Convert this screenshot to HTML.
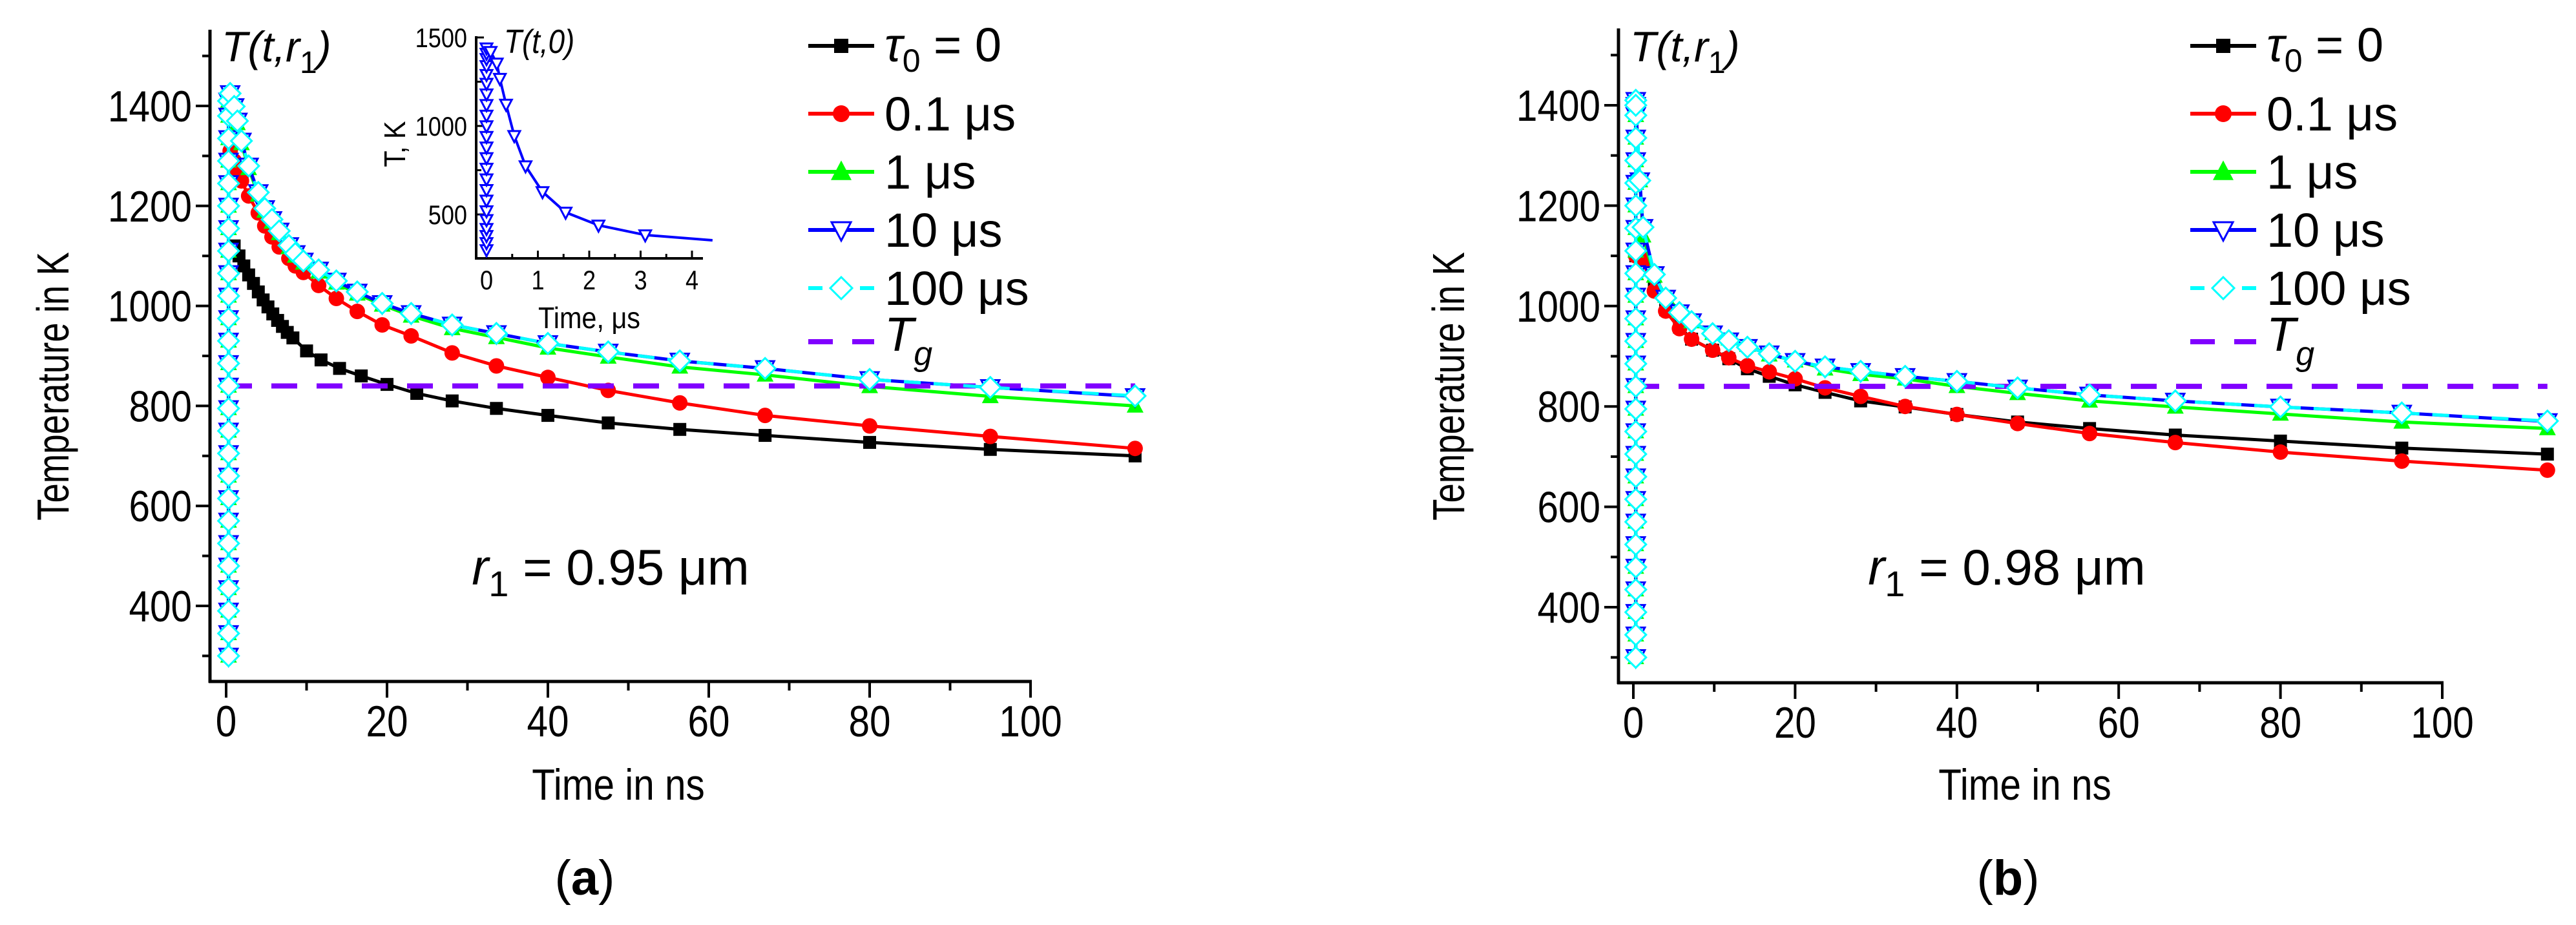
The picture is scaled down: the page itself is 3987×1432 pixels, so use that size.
<!DOCTYPE html>
<html><head><meta charset="utf-8">
<style>
html,body{margin:0;padding:0;background:#fff;}
svg{display:block;}
text{font-family:"Liberation Sans",sans-serif;}
</style></head>
<body>
<svg id="fig" width="3987" height="1432" viewBox="0 0 3987 1432" xmlns="http://www.w3.org/2000/svg"></svg>
<script>
// ---------- data ----------
const riseK = [300,345,390,435,480,525,570,615,660,705,750,795,840,885,930,975,1020,1065,1110,1155,1200,1245,1290,1335,1380,1410];
const riseT = 0.3;
const tA = [1,1.6,2.2,2.8,3.4,4,4.6,5.2,5.8,6.4,7,7.6,8.3,10,11.8,14.1,16.8,20,23.7,28.1,33.6,40,47.5,56.4,67,80,95,113];
const blackA = [1120,1100,1080,1062,1045,1028,1012,998,984,971,959,947,936,910,892,875,860,843,825,810,795,781,766,753,741,727,713,700];
const tA2 = [0.5,1,1.4,1.9,2.8,4,4.8,5.7,6.6,7.8,8.6,9.6,11.5,13.7,16.3,19.4,23,28.1,33.6,40,47.5,56.4,67,80,95,113];
const redA = [1310,1290,1270,1250,1220,1186,1160,1138,1118,1095,1080,1067,1041,1015,989,962,940,906,880,857,831,806,781,760,739,715];
const greenA = [1420,1395,1365,1325,1275,1222,1190,1168,1145,1117,1100,1086,1068,1046,1024,1002,980,955,937,916,898,878,862,839,819,800];
const blueA = [1425,1399,1370,1330,1280,1227,1195,1173,1150,1121,1105,1090,1072,1050,1028,1005,985,962,945,925,908,890,875,853,837,819];
const cyanA = [1425,1399,1370,1330,1280,1227,1195,1173,1150,1121,1105,1090,1072,1050,1028,1005,985,962,945,925,908,890,875,853,837,820];
const tB = [0.3,0.8,1.2,2.6,4,5.7,7.2,9.8,11.8,14.1,16.8,20,23.7,28.1,33.6,40,47.5,56.4,67,80,95,113];
const blackB = [1100,1100,1092,1034,993,958,934,912,895,875,860,843,828,811,799,784,769,756,743,731,717,705];
const redB = [1100,1100,1090,1030,990,955,934,912,897,881,869,855,837,820,800,784,766,746,728,709,691,673];
const greenB = [1400,1250,1140,1060,1020,990,969,946,935,922,903,891,875,864,855,840,826,811,799,785,769,756];
const blueB = [1400,1250,1157,1063,1016,987,969,945,931,918,905,890,879,870,860,850,837,823,811,799,787,770];
const cyanB = [1400,1250,1157,1063,1016,987,969,945,931,918,905,890,879,870,860,850,837,823,811,799,787,771];
const Tg = 840;
const insetT = [0.08,0.2,0.26,0.38,0.54,0.76,1.09,1.54,2.18,3.09,4.4];
const insetK = [1420,1354,1268,1122,945,774,628,512,439,384,354];
const insetRiseK = [300,340,380,420,470,520,580,640,700,760,820,880,940,1000,1060,1120,1180,1240,1290,1340,1380,1410,1440];
const yTicks = [400,600,800,1000,1200,1400];
const xTicks = [0,20,40,60,80,100];
const insetYTicks = [500,1000,1500];
const insetXTicks = [0,1,2,3,4];
const legendLabels = ["τ0 = 0","0.1 μs","1 μs","10 μs","100 μs","Tg"];

// ---------- helpers ----------
const NS="http://www.w3.org/2000/svg";
const svg=document.getElementById('fig');
function mk(tag,attrs,parent){const e=document.createElementNS(NS,tag);for(const k in attrs)e.setAttribute(k,attrs[k]);(parent||svg).appendChild(e);return e;}
function marker(g,type,cx,cy,color,s){
  let e;
  if(type==='sq'){e=mk('rect',{x:cx-s/2,y:cy-s/2,width:s,height:s,fill:color},g);}
  else if(type==='ci'){e=mk('circle',{cx:cx,cy:cy,r:s/2,fill:color},g);}
  else if(type==='up'){e=mk('polygon',{points:`${cx},${cy-s*0.55} ${cx-s/2},${cy+s*0.4} ${cx+s/2},${cy+s*0.4}`,fill:color},g);}
  else if(type==='dn'){e=mk('polygon',{points:`${cx-s/2},${cy-s*0.4} ${cx+s/2},${cy-s*0.4} ${cx},${cy+s*0.55}`,fill:'#fff',stroke:color,'stroke-width':3},g);}
  else {e=mk('polygon',{points:`${cx},${cy-s/2} ${cx+s/2},${cy} ${cx},${cy+s/2} ${cx-s/2},${cy}`,fill:'#fff',stroke:color,'stroke-width':3},g);}
  
  
  return e;
}
function txt(s,attrs,parent){const t=mk('text',attrs,parent);t.textContent=s;return t;}

function panel(o){
  const g=mk('g',{});
  
  
  const X=t=>o.x0+t*o.sx, Y=k=>o.y0+(1400-k)*o.sy;
  const ax=mk('g',{},g);
  
  
  mk('line',{x1:o.axX,y1:o.axTop,x2:o.axX,y2:o.axY+2,stroke:'#000','stroke-width':5},ax);
  mk('line',{x1:o.axX-2,y1:o.axY,x2:X(100)+2,y2:o.axY,stroke:'#000','stroke-width':5},ax);
  for(let k=300;k<=1500;k+=100){const maj=yTicks.includes(k);mk('line',{x1:o.axX-(maj?22:12),y1:Y(k),x2:o.axX,y2:Y(k),stroke:'#000','stroke-width':4},ax);}
  for(let t=0;t<=100;t+=10){const maj=xTicks.includes(t);mk('line',{x1:X(t),y1:o.axY,x2:X(t),y2:o.axY+(maj?25:14),stroke:'#000','stroke-width':4},ax);}
  yTicks.forEach(k=>{const e=txt(String(k),{x:0,y:0,'font-size':68,'text-anchor':'end',transform:`translate(${o.axX-28},${Y(k)+24}) scale(0.86,1)`},ax);});
  xTicks.forEach(t=>{const e=txt(String(t),{x:0,y:0,'font-size':68,'text-anchor':'middle',transform:`translate(${X(t)},${o.axY+85}) scale(0.86,1)`},ax);});
  let e=txt('Temperature in K',{x:0,y:0,'font-size':70,'text-anchor':'middle',transform:`translate(${o.ylx},${o.yly}) rotate(-90) scale(0.78,1)`},g);
  
  e=txt('Time in ns',{x:0,y:0,'font-size':68,'text-anchor':'middle',transform:`translate(${o.xlx},1238) scale(0.86,1)`},g);
  
  e=txt('',{x:o.axX+18,y:95,'font-size':66,'font-style':'italic'},g);
  e.innerHTML='T(t,r<tspan dy="18" font-size="48" font-style="normal">1</tspan><tspan dy="-18">)</tspan>';
  
  e=txt('',{x:o.rx,y:905,'font-size':78,'text-anchor':'middle'},g);
  e.innerHTML='<tspan font-style="italic">r</tspan><tspan dy="18" font-size="56">1</tspan><tspan dy="-18"> = '+o.r+' μm</tspan>';
  
  e=txt('',{x:o.px,y:1385,'font-size':76,'text-anchor':'middle','font-family':'Liberation Serif, serif'},g);
  e.innerHTML='(<tspan font-weight="bold">'+o.tag+'</tspan>)';
  

  o.series.forEach(s=>{
    const sg=mk('g',{},g);
    
    
    const pts=[];
    s.riseTop && riseK.filter(k=>k<=s.riseTop).forEach(k=>pts.push([X(riseT),Y(k)]));
    s.t.forEach((t,i)=>pts.push([X(t),Y(s.v[i])]));
    const attrs={points:pts.map(p=>p.join(',')).join(' '),fill:'none',stroke:s.color,'stroke-width':5,'stroke-linejoin':'round'};
    if(s.dash)attrs['stroke-dasharray']=s.dash;
    const pl=mk('polyline',attrs,sg);
    
    
    pts.forEach(p=>marker(sg,s.mk,p[0],p[1],s.color,s.ms));
    if(s.tgAfter){
      const tl=mk('line',{x1:X(0),y1:Y(Tg),x2:X(113),y2:Y(Tg),stroke:'#8000ff','stroke-width':8,'stroke-dasharray':'40 30'},g);
      
      
    }
  });
  const lg=mk('g',{},g);
  
  
  const rows=[71,176,266,356,446,529];
  const sty=[['#000','sq',22],['#f00','ci',26],['#00ff00','up',32],['#0000ff','dn',30],['#00ffff','di',34],['#8000ff',null,0]];
  const L=102, tx=o.lx+118;
  rows.forEach((ry,i)=>{
    const en=mk('g',{},lg);
    
    
    if(i==4){mk('line',{x1:o.lx,y1:ry,x2:o.lx+22,y2:ry,stroke:sty[i][0],'stroke-width':6},en);mk('line',{x1:o.lx+80,y1:ry,x2:o.lx+L,y2:ry,stroke:sty[i][0],'stroke-width':6},en);}
    else if(i==5){mk('line',{x1:o.lx,y1:ry,x2:o.lx+L,y2:ry,stroke:sty[i][0],'stroke-width':8,'stroke-dasharray':'38 30'},en);}
    else mk('line',{x1:o.lx,y1:ry,x2:o.lx+L,y2:ry,stroke:sty[i][0],'stroke-width':6},en);
    if(sty[i][1])marker(en,sty[i][1],o.lx+L/2,ry,sty[i][0],sty[i][2]);
    let t;
    if(i==0){t=txt('',{x:tx,y:ry+24,'font-size':74},en);t.innerHTML='<tspan font-style="italic">τ</tspan><tspan dy="16" font-size="50">0</tspan><tspan dy="-16"> = 0</tspan>';}
    else if(i==5){t=txt('',{x:tx,y:ry+14,'font-size':74,'font-style':'italic'},en);t.innerHTML='T<tspan dy="22" font-size="52">g</tspan>';}
    else t=txt(legendLabels[i],{x:tx,y:ry+26,'font-size':74},en);
    
  });
  return {X,Y};
}

panel({name:'panel-a',tag:'a',x0:350,sx:12.45,y0:164,sy:0.774,axX:325,axY:1055,axTop:46,ylx:106,yly:598,xlx:957,rx:945,px:905,r:'0.95',lx:1251,
 series:[
  {id:'tau0',t:tA,v:blackA,color:'#000',mk:'sq',ms:20,riseTop:1110},
  {id:'0.1us',t:tA2,v:redA,color:'#f00',mk:'ci',ms:24,riseTop:1300},
  {id:'1us',t:tA2,v:greenA,color:'#00ff00',mk:'up',ms:26,riseTop:1410},
  {id:'10us',t:tA2,v:blueA,color:'#0000ff',mk:'dn',ms:28,riseTop:1410,tgAfter:true},
  {id:'100us',t:tA2,v:cyanA,color:'#00ffff',mk:'di',ms:32,dash:'26 20',riseTop:1410}
 ]});
panel({name:'panel-b',tag:'b',x0:2528,sx:12.52,y0:163,sy:0.777,axX:2505,axY:1057,axTop:44,ylx:2266,yly:598,xlx:3134,rx:3106,px:3108,r:'0.98',lx:3390,
 series:[
  {id:'tau0',t:tB,v:blackB,color:'#000',mk:'sq',ms:20,riseTop:1100},
  {id:'0.1us',t:tB,v:redB,color:'#f00',mk:'ci',ms:24,riseTop:1100},
  {id:'1us',t:tB,v:greenB,color:'#00ff00',mk:'up',ms:26,riseTop:1410},
  {id:'10us',t:tB,v:blueB,color:'#0000ff',mk:'dn',ms:28,riseTop:1410,tgAfter:true},
  {id:'100us',t:tB,v:cyanB,color:'#00ffff',mk:'di',ms:32,dash:'26 20',riseTop:1410}
 ]});

// ---------- inset ----------
(function(){
  const g=mk('g',{});
  
  
  const X=t=>753+t*79.5, Y=k=>58+(1500-k)*0.274;
  mk('rect',{x:738,y:58,width:350,height:342,fill:'#fff'},g);
  mk('line',{x1:737,y1:56,x2:737,y2:402,stroke:'#000','stroke-width':4},g);
  mk('line',{x1:735,y1:400,x2:1088,y2:400,stroke:'#000','stroke-width':4},g);
  for(let k=500;k<=1500;k+=250){const maj=insetYTicks.includes(k);mk('line',{x1:737,y1:Y(k),x2:737+(maj?12:8),y2:Y(k),stroke:'#000','stroke-width':3},g);}
  for(let t=0;t<=4.01;t+=0.5){const maj=Math.abs(t-Math.round(t))<0.01;mk('line',{x1:X(t),y1:400,x2:X(t),y2:400-(maj?12:7),stroke:'#000','stroke-width':3},g);}
  insetYTicks.forEach(k=>{const e=txt(String(k),{x:0,y:0,'font-size':42,'text-anchor':'end',transform:`translate(723,${Y(k)+15}) scale(0.86,1)`},g);});
  insetXTicks.forEach(t=>{const e=txt(String(t),{x:0,y:0,'font-size':42,'text-anchor':'middle',transform:`translate(${X(t)},448) scale(0.86,1)`},g);});
  let e=txt('T, K',{x:0,y:0,'font-size':46,'text-anchor':'middle',transform:'translate(627,223) rotate(-90) scale(0.9,1)'},g);
  
  e=txt('Time, μs',{x:0,y:0,'font-size':46,'text-anchor':'middle',transform:'translate(912,508) scale(0.9,1)'},g);
  
  e=txt('T(t,0)',{x:0,y:0,'font-size':52,'font-style':'italic',transform:'translate(780,82) scale(0.88,1)'},g);
  
  const pts=[];
  insetRiseK.forEach(k=>pts.push([X(0),Y(k)]));
  insetT.forEach((t,i)=>pts.push([X(t),Y(insetK[i])]));
  const pl=mk('polyline',{points:pts.map(p=>p.join(',')).join(' '),fill:'none',stroke:'#0000ff','stroke-width':4},g);
  
  
  pts.slice(0,pts.length-1).forEach(p=>marker(g,'dn',p[0],p[1],'#0000ff',18));
})();
</script>
</body></html>
